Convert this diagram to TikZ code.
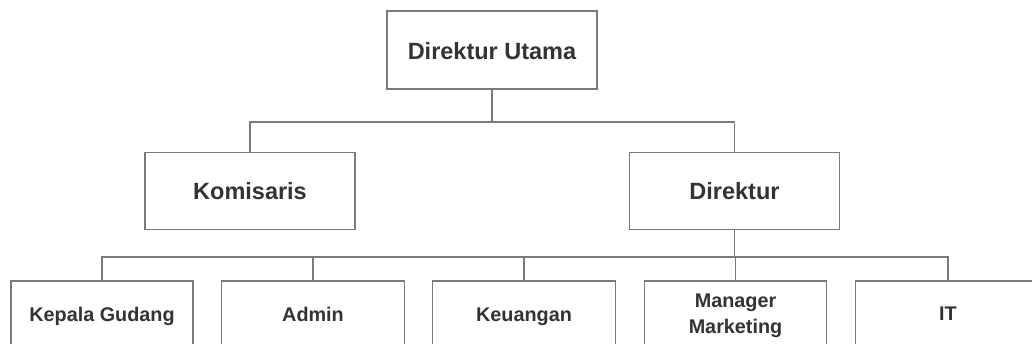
\documentclass[tikz,border=0pt]{standalone}
\usepackage{fontspec}
\setmainfont{Liberation Sans}
\begin{document}
\begin{tikzpicture}[x=1pt,y=-1pt,
  box/.style={draw=boxgray, line width=1.5pt, fill=white, inner sep=0pt},
  bigtxt/.style={anchor=base, inner sep=0pt, font=\fontsize{23.5}{26}\selectfont\bfseries, text=textdark},
  smalltxt/.style={anchor=base, inner sep=0pt, font=\fontsize{19.8}{25.7}\selectfont\bfseries, text=textdark, align=center},
  link/.style={draw=boxgray, line width=1.5pt}]
\definecolor{boxgray}{HTML}{7A7A7A}
\definecolor{textdark}{HTML}{333333}
\useasboundingbox (0,0) rectangle (1032,344);
\clip (0,0) rectangle (1032,344);
\node[box, minimum width=210pt, minimum height=78pt] (du) at (492,50) {};
\node[box, minimum width=210pt, minimum height=77pt] (kom) at (250,191) {};
\node[box, minimum width=210pt, minimum height=77pt] (dir) at (734.5,191) {};
\node[box, minimum width=182pt, minimum height=78pt] (kg) at (102,320) {};
\node[box, minimum width=183pt, minimum height=78pt] (ad) at (313,320) {};
\node[box, minimum width=183pt, minimum height=78pt] (ke) at (524,320) {};
\node[box, minimum width=182pt, minimum height=78pt] (mm) at (735.5,320) {};
\node[box, minimum width=185pt, minimum height=78pt] (it) at (948,320) {};
\node[bigtxt] (dut) at (492,59.3) {Direktur Utama};
\node[bigtxt] (komt) at (250,200) {Komisaris};
\node[bigtxt] (dirt) at (734.5,199.5) {Direktur};
\node[smalltxt] (kgt) at (102,321) {Kepala Gudang};
\node[smalltxt] (adt) at (313,321) {Admin};
\node[smalltxt] (ket) at (524,321) {Keuangan};
\node[smalltxt] (mmt1) at (735.5,307.7) {Manager};
\node[smalltxt] (mmt2) at (735.5,333.3) {Marketing};
\node[smalltxt] (itt) at (948,320.5) {IT};
\coordinate (h1) at (492,122);
\coordinate (h2) at (734.5,257);
\draw[link] (du.south) -- (h1);
\draw[link] (kom.north) |- (h1) -| (dir.north);
\draw[link] (dir.south) -- (h2);
\draw[link] (kg.north) |- (h2) -| (it.north);
\draw[link] (ad.north) -- (ad.north |- h2);
\draw[link] (ke.north) -- (ke.north |- h2);
\draw[link] (mm.north) -- (mm.north |- h2);
\end{tikzpicture}
\end{document}
